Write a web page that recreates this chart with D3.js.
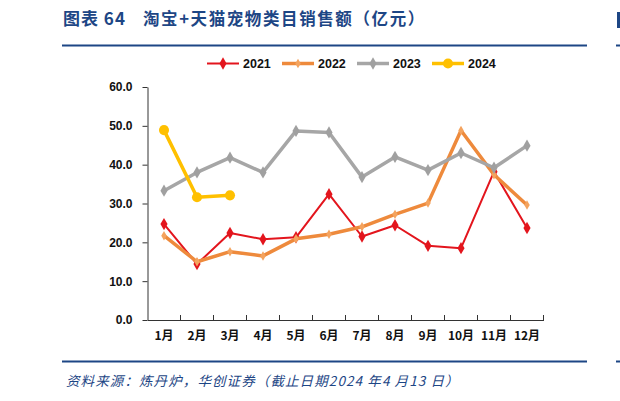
<!DOCTYPE html>
<html><head><meta charset="utf-8">
<script src="https://cdn.jsdelivr.net/npm/d3@7"></script>
<style>body{margin:0;background:#fff}svg{display:block}</style>
</head><body>
<svg id="c" width="620" height="401"></svg>
<script>
const months = ["1月","2月","3月","4月","5月","6月","7月","8月","9月","10月","11月","12月"];
const y2021 = [24.7,14.4,22.4,20.8,21.3,32.4,21.5,24.4,19.1,18.5,38.2,23.7];
const y2022 = [21.7,15.0,17.6,16.5,20.9,22.1,24.0,27.2,30.1,48.8,37.4,29.6];
const y2023 = [33.3,38.0,41.8,38.0,48.7,48.3,36.8,42.0,38.6,43.0,39.2,44.9];
const y2024 = [48.9,31.6,32.1];
const yTicks = [0,10,20,30,40,50,60];
const seriesNames = ["2021","2022","2023","2024"];

const svg = d3.select("#c");
const blue = "#1d4685";
const x = d3.scaleBand().domain(months).range([147.5,543.5]);
const y = d3.scaleLinear().domain([0,60]).range([320,87]);

// header
svg.append("text").attr("x",63).attr("y",25).attr("fill",blue)
  .attr("font-family","Noto Sans CJK SC").attr("font-weight","bold").attr("font-size",17)
  .attr("letter-spacing",1).text("图表 64");
svg.append("text").attr("x",143).attr("y",25).attr("fill",blue)
  .attr("font-family","Noto Sans CJK SC").attr("font-weight","bold").attr("font-size",16.5)
  .attr("letter-spacing",1.6)
  .text("淘宝+天猫宠物类目销售额（亿元）");
svg.append("line").attr("x1",62).attr("x2",587).attr("y1",45.5).attr("y2",45.5).attr("stroke",blue).attr("stroke-width",2);
svg.append("line").attr("x1",616).attr("x2",620).attr("y1",45.5).attr("y2",45.5).attr("stroke",blue).attr("stroke-width",2);
svg.append("rect").attr("x",617).attr("y",12).attr("width",3).attr("height",16).attr("fill",blue);
svg.append("line").attr("x1",62).attr("x2",587).attr("y1",361.5).attr("y2",361.5).attr("stroke",blue).attr("stroke-width",2);
svg.append("line").attr("x1",616).attr("x2",620).attr("y1",361.5).attr("y2",361.5).attr("stroke",blue).attr("stroke-width",2);
svg.append("text").attr("x",66).attr("y",386).attr("fill",blue)
  .attr("font-family","Noto Sans CJK SC").attr("font-style","italic").attr("font-size",13.5)
  .attr("letter-spacing",1.1)
  .text("资料来源：炼丹炉，华创证券（截止日期2024 年4 月13 日）");

// axes
const yAxis = d3.axisLeft(y).tickValues(yTicks).tickFormat(d3.format(".1f")).tickSize(5).tickSizeOuter(0);
const gy = svg.append("g").attr("transform","translate(147.5,0)").call(yAxis);
gy.select(".domain").attr("stroke","#333");
gy.selectAll(".tick line").attr("stroke","#333");
gy.selectAll("text").attr("font-family","Liberation Sans, Arial").attr("font-weight","bold").attr("font-size",12).attr("fill","#111").attr("x",-15);

const xAxis = d3.axisBottom(x).tickSize(0).tickSizeOuter(0);
const gx = svg.append("g").attr("transform","translate(0,320)").call(xAxis);
gx.select(".domain").attr("stroke","#333");
gx.selectAll("text").attr("font-family","Noto Sans CJK SC").attr("font-weight","bold").attr("font-size",12).attr("fill","#111").attr("y",11).attr("dy","0.71em");
// inside tick marks between categories
svg.append("g").selectAll("line").data(months.slice(1)).join("line")
  .attr("x1",d=>x(d)).attr("x2",d=>x(d)).attr("y1",320).attr("y2",315).attr("stroke","#333");
svg.append("line").attr("x1",x.range()[1]).attr("x2",x.range()[1]).attr("y1",320).attr("y2",315).attr("stroke","#333");

const cx = d => x(d) + x.bandwidth()/2;
const series = [
  {name:"2021", data:y2021, color:"#e3151d", width:2, marker:"diamond", msize:44, mcolor:"#e3151d"},
  {name:"2022", data:y2022, color:"#ee8a3c", width:3.5, marker:"diamond", msize:26, mcolor:"#f4a35e"},
  {name:"2023", data:y2023, color:"#a6a6a6", width:3.5, marker:"diamond", msize:44, mcolor:"#a0a0a0"},
  {name:"2024", data:y2024, color:"#ffc000", width:3.5, marker:"circle", msize:80, mcolor:"#ffc000"}
];
const line = d3.line().x(d=>cx(d.m)).y(d=>y(d.v));
series.forEach(s=>{
  const pts = s.data.map((v,i)=>({m:months[i], v}));
  svg.append("path").datum(pts).attr("d",line).attr("fill","none")
    .attr("stroke",s.color).attr("stroke-width",s.width).attr("stroke-linejoin","round");
  const sym = d3.symbol().type(s.marker==="circle"?d3.symbolCircle:d3.symbolDiamond).size(s.msize);
  svg.append("g").selectAll("path").data(pts).join("path")
    .attr("d",sym).attr("transform",d=>`translate(${cx(d.m)},${y(d.v)})`).attr("fill",s.mcolor);
});

// legend
const legX = [207,282,357,432];
series.forEach((s,i)=>{
  const g = svg.append("g").attr("transform",`translate(${legX[i]},63.5)`);
  g.append("line").attr("x1",0).attr("x2",32).attr("stroke",s.color).attr("stroke-width",s.width);
  const sym = d3.symbol().type(s.marker==="circle"?d3.symbolCircle:d3.symbolDiamond).size(s.msize);
  g.append("path").attr("d",sym).attr("transform","translate(16,0)").attr("fill",s.mcolor);
  g.append("text").attr("x",36).attr("y",4.5).attr("font-family","Liberation Sans, Arial")
    .attr("font-weight","bold").attr("font-size",12.5).attr("fill","#111").text(s.name);
});
</script>
</body></html>
